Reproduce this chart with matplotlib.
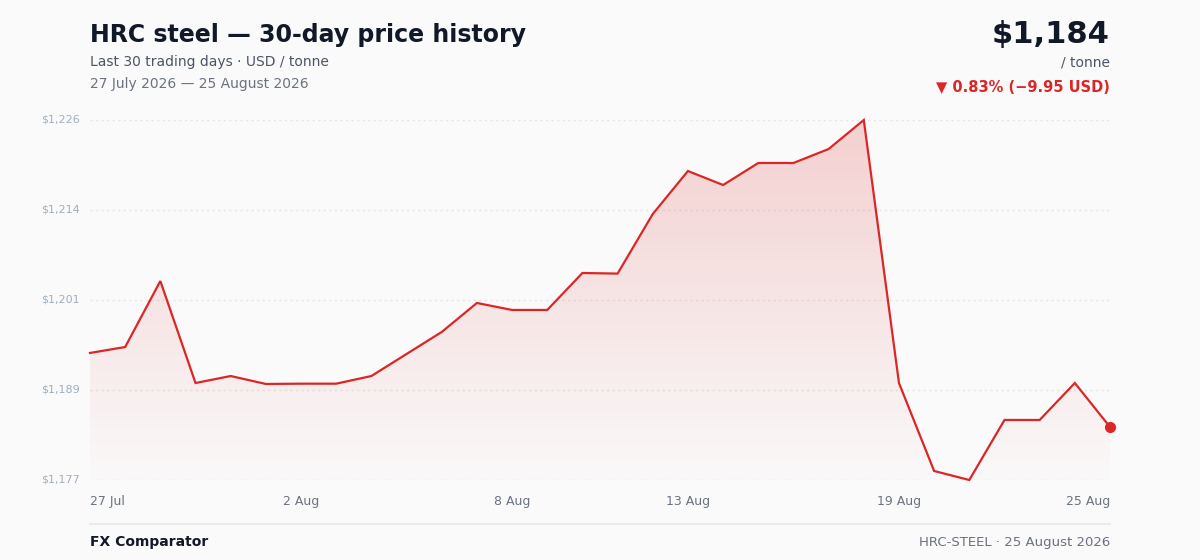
import pandas as pd
import numpy as np
import matplotlib
matplotlib.use("Agg")
import matplotlib.pyplot as plt
from matplotlib.colors import LinearSegmentedColormap
from matplotlib.patches import Polygon

plt.rcParams['font.family'] = ['DejaVu Sans']

# 30 trading days, 27 Jul - 25 Aug 2026
dates = pd.date_range("2026-07-27", "2026-08-25", freq="D")
prices = [1194.33, 1195.13, 1204.00, 1190.29, 1191.23, 1190.16, 1190.20, 1190.20,
          1191.23, 1194.19, 1197.15, 1201.05, 1200.11, 1200.11, 1205.08, 1205.00,
          1213.01, 1218.79, 1216.91, 1219.87, 1219.87, 1221.75, 1225.65, 1190.29,
          1178.46, 1177.25, 1185.32, 1185.32, 1190.29, 1184.38]
tick_idx = [0, 6, 12, 17, 23, 29]

RED = "#dc2626"
BG = "#fafafa"
W, H = 1200, 560

def fy(px):
    return 1 - px / H

fig = plt.figure(figsize=(12, 5.6), dpi=100, facecolor=BG)
ax = fig.add_axes([90 / W, fy(480), 1020 / W, 360 / H], facecolor=BG)

x = np.arange(len(prices))
y = np.array(prices)
ymin, ymax = y.min(), y.max()
ax.set_xlim(0, len(prices) - 1)
ax.set_ylim(ymin, ymax)

# gradient fill under the line
grad = LinearSegmentedColormap.from_list("g", [(0.86, 0.15, 0.15, 0.0), (0.86, 0.15, 0.15, 0.2)])
img = ax.imshow(np.linspace(0, 1, 256).reshape(-1, 1), cmap=grad, aspect="auto",
                extent=[0, len(prices) - 1, ymin - 2, ymax], origin="lower", zorder=1)
poly = Polygon(np.column_stack([np.r_[x, x[-1], x[0]], np.r_[y, ymin - 2, ymin - 2]]),
               closed=True, facecolor="none", edgecolor="none")
ax.add_patch(poly)
img.set_clip_path(poly)

ax.plot(x, y, color=RED, lw=1.6, zorder=3, clip_on=False, solid_joinstyle="miter")
ax.plot(x[-1], y[-1], "o", color=RED, ms=7, zorder=4, clip_on=False)

yt = np.linspace(ymin, ymax, 5)
for v in yt:
    ax.axhline(v, color="#e2e5ea", lw=1.0, ls=(0, (1.5, 2.5)), zorder=0)
    ax.text(-0.3, v, "${:,.0f}".format(v), ha="right", va="center", fontsize=8,
            color="#a0aec0", transform=ax.transData)

for i in tick_idx:
    ha = "left" if i == 0 else ("right" if i == len(prices) - 1 else "center")
    ax.text(i, ymin - 2.0, "{} {}".format(dates[i].day, dates[i].strftime("%b")),
            ha=ha, va="top", fontsize=9, color="#6b7280")

ax.set_xticks([])
ax.set_yticks([])
for s in ax.spines.values():
    s.set_visible(False)

# header
fig.text(90 / W, fy(42), "HRC steel \u2014 30-day price history", fontsize=17, fontweight="bold",
         color="#111827", ha="left", va="baseline")
fig.text(90 / W, fy(66), "Last 30 trading days \u00b7 USD / tonne", fontsize=10, color="#4b5563",
         ha="left", va="baseline")
fig.text(90 / W, fy(88), "27 July 2026 \u2014 25 August 2026", fontsize=10, color="#6b7280",
         ha="left", va="baseline")

last = prices[-1]
chg = last - prices[0]
pct = chg / prices[0] * 100
fig.text(1110 / W, fy(43), "${:,.0f}".format(last), fontsize=22, fontweight="bold",
         color="#111827", ha="right", va="baseline")
fig.text(1110 / W, fy(66), "/ tonne", fontsize=10, color="#4b5563", ha="right", va="baseline")
fig.text(1110 / W, fy(92), "\u25bc {:.2f}% (\u2212{:.2f} USD)".format(abs(pct), abs(chg)),
         fontsize=10.5, fontweight="bold", color=RED, ha="right", va="baseline")

# footer
fig.add_artist(plt.Line2D([90 / W, 1110 / W], [fy(524), fy(524)], color="#e5e7eb", lw=1.2))
fig.text(90 / W, fy(546), "FX Comparator", fontsize=10, fontweight="bold", color="#111827",
         ha="left", va="baseline")
fig.text(1110 / W, fy(546), "HRC-STEEL \u00b7 25 August 2026", fontsize=9.5, color="#6b7280",
         ha="right", va="baseline")

fig.savefig("out.png", dpi=100, facecolor=BG)
